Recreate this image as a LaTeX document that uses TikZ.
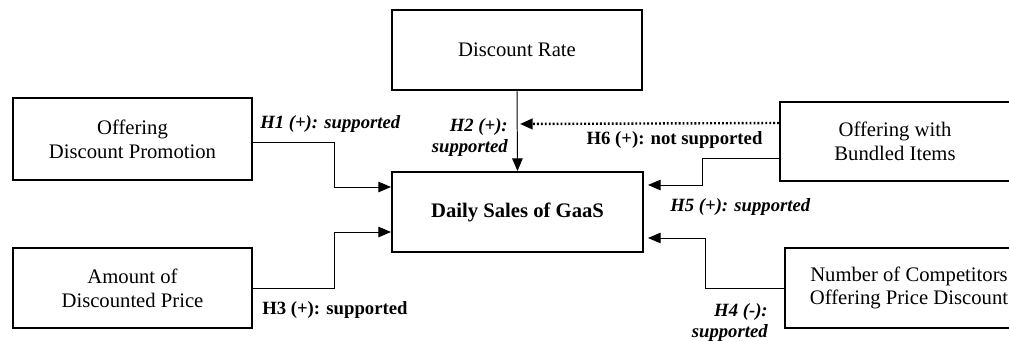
\documentclass[tikz,border=0pt]{standalone}
\usepackage{fontspec}
\setmainfont{Liberation Serif}
\usetikzlibrary{arrows.meta}
\usetikzlibrary{calc}
\tikzset{
  factor/.style={draw, line width=1.4pt, align=center, inner sep=0pt,
    font=\fontsize{14.7}{17}\selectfont},
  hyp/.style={inner sep=0pt, font=\fontsize{13.3}{15}\selectfont\bfseries},
  hypit/.style={hyp, font=\fontsize{13.3}{15}\selectfont\bfseries\itshape},
  link/.style={line width=0.7pt, -{Triangle[length=9pt,width=7.5pt]}}
}

\begin{document}
\begin{tikzpicture}[x=0.025cm, y=-0.025cm]
  \useasboundingbox (0,0) rectangle (1009,341);

  % factors
  \node [factor, minimum width=5.975cm, minimum height=2.05cm] (promo) at (132.5,139) {Offering\\Discount Promotion};
  \node [factor, minimum width=5.975cm, minimum height=2cm] (amount) at (132.5,288) {Amount of\\Discounted Price};
  \node [factor, minimum width=6.25cm, minimum height=2cm] (rate) at (517,50) {Discount Rate};
  \node [factor, minimum width=6.275cm, minimum height=2cm, font=\fontsize{14.7}{17}\selectfont\bfseries] (sales) at (517.5,212) {Daily Sales of GaaS};
  \node [factor, minimum width=5.75cm, minimum height=1.975cm] (bundle) at (895,141.5) {Offering with\\Bundled Items};
  \node [factor, minimum width=6.2cm, minimum height=2cm] (rivals) at (909,288) {Number of Competitors\\Offering Price Discount};

  % hypotheses
  \draw [link] ($(promo.east)+(0,3)$) -- ++(81,0) |- ($(sales.west)+(0,-25)$);
  \draw [link] (amount.east) -- ++(81,0) |- ($(sales.west)+(0,20)$);
  \draw [link] (rate.south) -- (sales.north);
  \coordinate (h6tip) at ($(rate.south)+(3,33)$);
  \draw [link, line width=1.7pt, dash pattern=on 1.3pt off 1.5pt] ($(bundle.west)+(0,-18.5)$) -- (h6tip);
  \draw [link] ($(bundle.west)+(0,16.5)$) -- ++(-76,0) |- ($(sales.east)+(4,-27)$);
  \draw [link] (rivals.west) -- ++(-78,0) |- ($(sales.east)+(4,26)$);

  \node [hypit, anchor=west] (h1) at (260,124) {H1 (+): supported};
  \node [hypit, anchor=east, align=right] (h2) at (508,137.5) {H2 (+):\\supported};
  \node [hyp, anchor=west] (h3) at (262,310) {H3 (+): supported};
  \node [hypit, anchor=east, align=right] (h4) at (768,322.5) {H4 (-):\\supported};
  \node [hypit, anchor=west] (h5) at (670,207) {H5 (+): supported};
  \node [hyp] (h6) at (674.5,140) {H6 (+): not supported};
\end{tikzpicture}
\end{document}
